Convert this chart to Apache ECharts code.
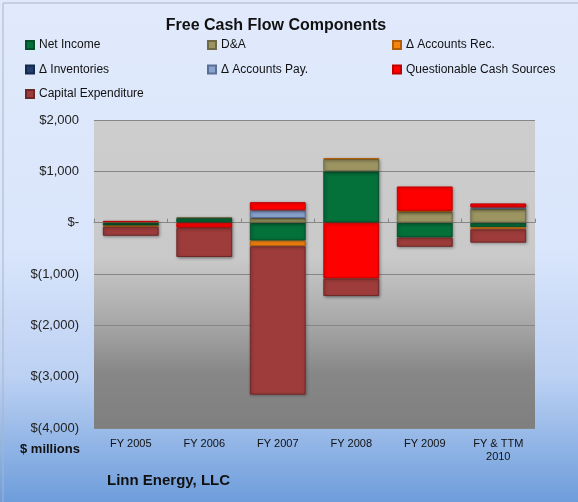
<!DOCTYPE html>
<html>
<head>
<meta charset="utf-8">
<script src="https://cdn.jsdelivr.net/npm/echarts@6/dist/echarts.min.js"></script>
<style>
  html, body { margin: 0; padding: 0; }
  #chart { width: 578px; height: 502px; }
</style>
</head>
<body>
<div id="chart"></div>
<script>
// $ millions
const years = ["FY 2005", "FY 2006", "FY 2007", "FY 2008", "FY 2009", "FY & TTM\n2010"];
const netIncome = [-60, 90, -350, 1000, -290, -90];
const dna = [10, 15, 90, 240, 210, 270];
const accountsRec = [-20, 0, -110, 15, 20, -40];
const inventories = [0, 0, 0, 0, 0, 0];
const accountsPay = [0, 0, 150, 0, 0, 25];
const questionable = [25, -100, 160, -1090, 475, 80];
const capex = [-175, -570, -2890, -340, -180, -260];
const yTicks = [-4000, -3000, -2000, -1000, 0, 1000, 2000];

const font = "'Liberation Sans', Arial, sans-serif";

const chart = echarts.init(document.getElementById("chart"));

function money(v) {
  if (v === 0) return "$-";
  const s = Math.abs(v).toLocaleString("en-US");
  return v < 0 ? "$(" + s + ")" : "$" + s;
}

function bar(name, data, color, border) {
  return {
    name: name,
    type: "bar",
    stack: "fcf",
    barWidth: "76%",
    data: data.map(v => (v === 0 ? "-" : v)),
    itemStyle: {
      color: color,
      borderColor: border,
      borderWidth: 1,
      shadowBlur: 3,
      shadowColor: "rgba(0,0,0,0.35)",
      shadowOffsetX: 1,
      shadowOffsetY: 1,
    },
  };
}

const legendText = { fontFamily: font, fontSize: 12, color: "#111", lineHeight: 13 };
const legendBase = {
  orient: "vertical", top: 38.5, padding: 0,
  itemWidth: 8, itemHeight: 8, itemGap: 11.5,
  icon: "rect", textStyle: legendText,
};

chart.setOption({
  animation: false,
  backgroundColor: new echarts.graphic.LinearGradient(0, 0, 0, 1, [
    { offset: 0, color: "#e1eafc" },
    { offset: 0.5, color: "#d9e5fb" },
    { offset: 0.75, color: "#bcd1f3" },
    { offset: 1, color: "#6e9ddb" },
  ]),
  title: {
    text: "Free Cash Flow Components",
    left: 271,
    top: 13,
    textAlign: "center",
    textStyle: { fontFamily: font, fontSize: 16, fontWeight: "bold", color: "#111" },
  },
  legend: [
    Object.assign({ data: ["Net Income", "Δ Inventories", "Capital Expenditure"], left: 25 }, legendBase),
    Object.assign({ data: ["D&A", "Δ Accounts Pay."], left: 207 }, legendBase),
    Object.assign({ data: ["Δ Accounts Rec.", "Questionable Cash Sources"], left: 392 }, legendBase),
  ],
  grid: {
    left: 94, top: 120, right: 43, bottom: 74,
    show: true,
    borderWidth: 0,
    backgroundColor: new echarts.graphic.LinearGradient(0, 0, 0, 1, [
      { offset: 0, color: "#cdcdcd" },
      { offset: 0.45, color: "#c9c9c9" },
      { offset: 0.65, color: "#a9a9a9" },
      { offset: 0.82, color: "#878787" },
      { offset: 1, color: "#7f7f7f" },
    ]),
  },
  xAxis: [
    {
      type: "category",
      data: years,
      axisLine: { onZero: true, lineStyle: { color: "#868686", width: 1 } },
      axisTick: { show: true, inside: true, length: 4, lineStyle: { color: "#868686" } },
      axisLabel: { show: false },
    },
    {
      type: "category",
      data: years,
      position: "bottom",
      axisLine: { show: false, onZero: false },
      axisTick: { show: false },
      axisLabel: { fontFamily: font, fontSize: 11, color: "#111", margin: 9, lineHeight: 13 },
    },
  ],
  yAxis: {
    type: "value",
    min: yTicks[0],
    max: yTicks[yTicks.length - 1],
    interval: 1000,
    axisLine: { show: false },
    axisTick: { show: false },
    splitLine: { lineStyle: { color: "#868686", width: 1 } },
    axisLabel: {
      fontFamily: font, fontSize: 13, color: "#222", margin: 15,
      formatter: money,
    },
  },
  series: [
    bar("Net Income", netIncome, "#04703a", "#02502a"),
    bar("D&A", dna, "#9c9562", "#6f6a45"),
    bar("Δ Accounts Rec.", accountsRec, "#f5840f", "#b45e06"),
    bar("Δ Inventories", inventories, "#223f6e", "#142a4d"),
    bar("Δ Accounts Pay.", accountsPay, "#8aa2ce", "#5a6f98"),
    bar("Questionable Cash Sources", questionable, "#ff0000", "#c00000"),
    bar("Capital Expenditure", capex, "#9e3c3b", "#6e2827"),
  ],
  graphic: [
    {
      type: "text", left: 20, top: 443,
      style: { text: "$ millions", font: "bold 13px " + font, fill: "#111" },
    },
    {
      type: "text", left: 107, top: 473,
      style: { text: "Linn Energy, LLC", font: "bold 15px " + font, fill: "#111" },
    },
    {
      type: "rect", left: 0.5, top: 0.5,
      shape: { width: 576, height: 500 },
      style: { fill: "none", stroke: "#a9b4c4", lineWidth: 1 },
      silent: true,
    },
  ],
});
</script>
</body>
</html>
